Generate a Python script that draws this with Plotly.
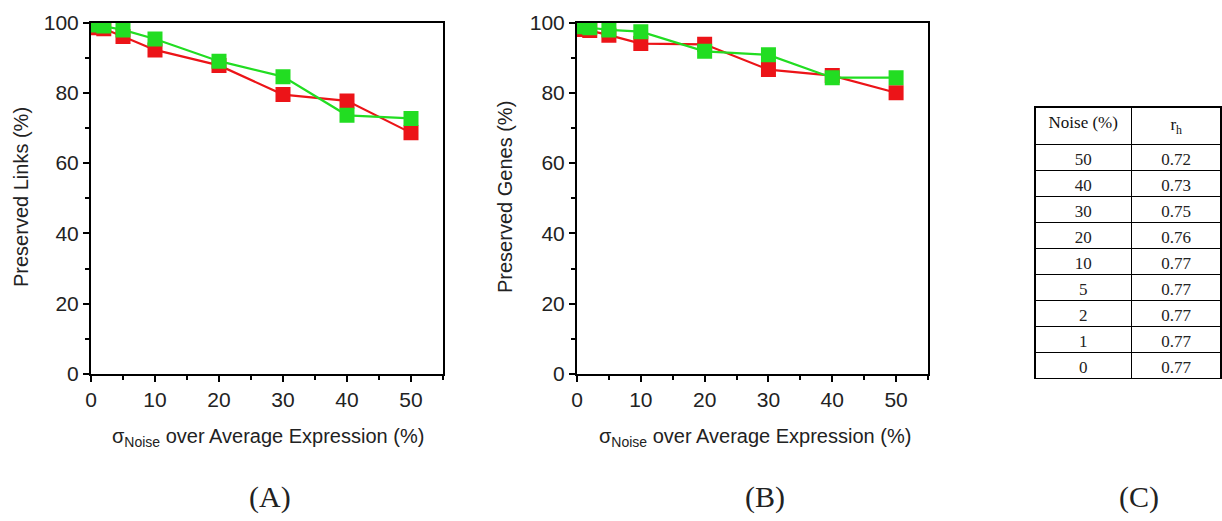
import plotly.graph_objects as go

# ---- data ----
noise_x = [1, 2, 5, 10, 20, 30, 40, 50]
links_red = [98.5, 98.2, 96.0, 92.2, 87.8, 79.5, 77.7, 68.6]
links_green = [99.3, 99.0, 97.9, 95.3, 89.0, 84.6, 73.6, 72.7]
genes_red = [98.0, 97.7, 96.4, 94.0, 93.8, 86.6, 84.9, 80.0]
genes_green = [98.8, 98.5, 97.9, 97.4, 91.8, 90.8, 84.3, 84.3]

table_noise = ["50", "40", "30", "20", "10", "5", "2", "1", "0"]
table_rh = ["0.72", "0.73", "0.75", "0.76", "0.77", "0.77", "0.77", "0.77", "0.77"]

x_ticks = [0, 10, 20, 30, 40, 50]
y_ticks = [0, 20, 40, 60, 80, 100]

RED = "#ec1418"
GREEN = "#22dd22"
W, H = 1222, 521

fig = go.Figure()

def add_series(xs, ys, color, xa, ya):
    fig.add_trace(go.Scatter(
        x=xs, y=ys, mode="lines+markers", xaxis=xa, yaxis=ya,
        line=dict(color=color, width=2.2),
        marker=dict(symbol="square", size=15, color=color, line=dict(width=0)),
        showlegend=False, hoverinfo="skip"))

add_series(noise_x, links_red, RED, "x", "y")
add_series(noise_x, links_green, GREEN, "x", "y")
add_series(noise_x, genes_red, RED, "x2", "y2")
add_series(noise_x, genes_green, GREEN, "x2", "y2")

fig.add_trace(go.Table(
    domain=dict(x=[1035 / W, 1.0], y=[0, 1 - 107 / H]),
    columnwidth=[97, 90],
    header=dict(values=["Noise (%)", "r<sub>h</sub>"],
                font=dict(family="Liberation Serif", size=17, color="#111"),
                fill_color="white", line=dict(color="black", width=1.5),
                align="center", height=26),
    cells=dict(values=[table_noise, table_rh],
               font=dict(family="Liberation Serif", size=17, color="#222"),
               fill_color="white", line=dict(color="black", width=1.5),
               align="center", height=26),
))

axis_common = dict(
    showline=True, linecolor="black", linewidth=2, mirror=True,
    ticks="outside", ticklen=6, tickwidth=2, tickcolor="black",
    showgrid=False, zeroline=False, automargin=False,
    tickfont=dict(family="Liberation Sans", size=21, color="#222"),
)

ydom = [1 - 374 / H, 1 - 22.5 / H]
fig.update_layout(
    width=W, height=H, margin=dict(l=0, r=0, t=0, b=0, pad=0, autoexpand=False),
    paper_bgcolor="white", plot_bgcolor="white",
    xaxis=dict(domain=[91 / W, 443 / W], range=[0, 55], tickvals=x_ticks,
               minor=dict(dtick=5, tick0=0, ticklen=4, tickwidth=2, ticks="outside", tickcolor="black"),
               anchor="y", **axis_common),
    yaxis=dict(domain=ydom, range=[0, 100], tickvals=y_ticks,
               minor=dict(dtick=10, tick0=0, ticklen=4, tickwidth=2, ticks="outside", tickcolor="black"),
               anchor="x", **axis_common),
    xaxis2=dict(domain=[577 / W, 928 / W], range=[0, 55], tickvals=x_ticks,
                minor=dict(dtick=5, tick0=0, ticklen=4, tickwidth=2, ticks="outside", tickcolor="black"),
                anchor="y2", **axis_common),
    yaxis2=dict(domain=ydom, range=[0, 100], tickvals=y_ticks,
                minor=dict(dtick=10, tick0=0, ticklen=4, tickwidth=2, ticks="outside", tickcolor="black"),
                anchor="x2", **axis_common),
)

title_font = dict(family="Liberation Sans", size=20, color="#222")
xtitle = "σ<sub>Noise</sub> over Average Expression (%)"
for cx in [268, 755]:
    fig.add_annotation(x=cx / W, y=1 - 437 / H, xref="paper", yref="paper",
                       text=xtitle, showarrow=False, font=title_font,
                       xanchor="center", yanchor="middle")
fig.add_annotation(x=21 / W, y=1 - 197 / H, xref="paper", yref="paper",
                   text="Preserved Links (%)", textangle=-90, showarrow=False,
                   font=title_font, xanchor="center", yanchor="middle")
fig.add_annotation(x=505 / W, y=1 - 197 / H, xref="paper", yref="paper",
                   text="Preserved Genes (%)", textangle=-90, showarrow=False,
                   font=title_font, xanchor="center", yanchor="middle")

for lbl, cx in [("(A)", 270), ("(B)", 765), ("(C)", 1139)]:
    fig.add_annotation(x=cx / W, y=1 - 497 / H, xref="paper", yref="paper",
                       text=lbl, showarrow=False,
                       font=dict(family="Liberation Serif", size=30, color="#222"),
                       xanchor="center", yanchor="middle")

fig.write_html("out.html",
               config={"displayModeBar": False, "staticPlot": True},
               post_script="document.body.style.margin='0px';document.body.style.overflow='hidden';")
